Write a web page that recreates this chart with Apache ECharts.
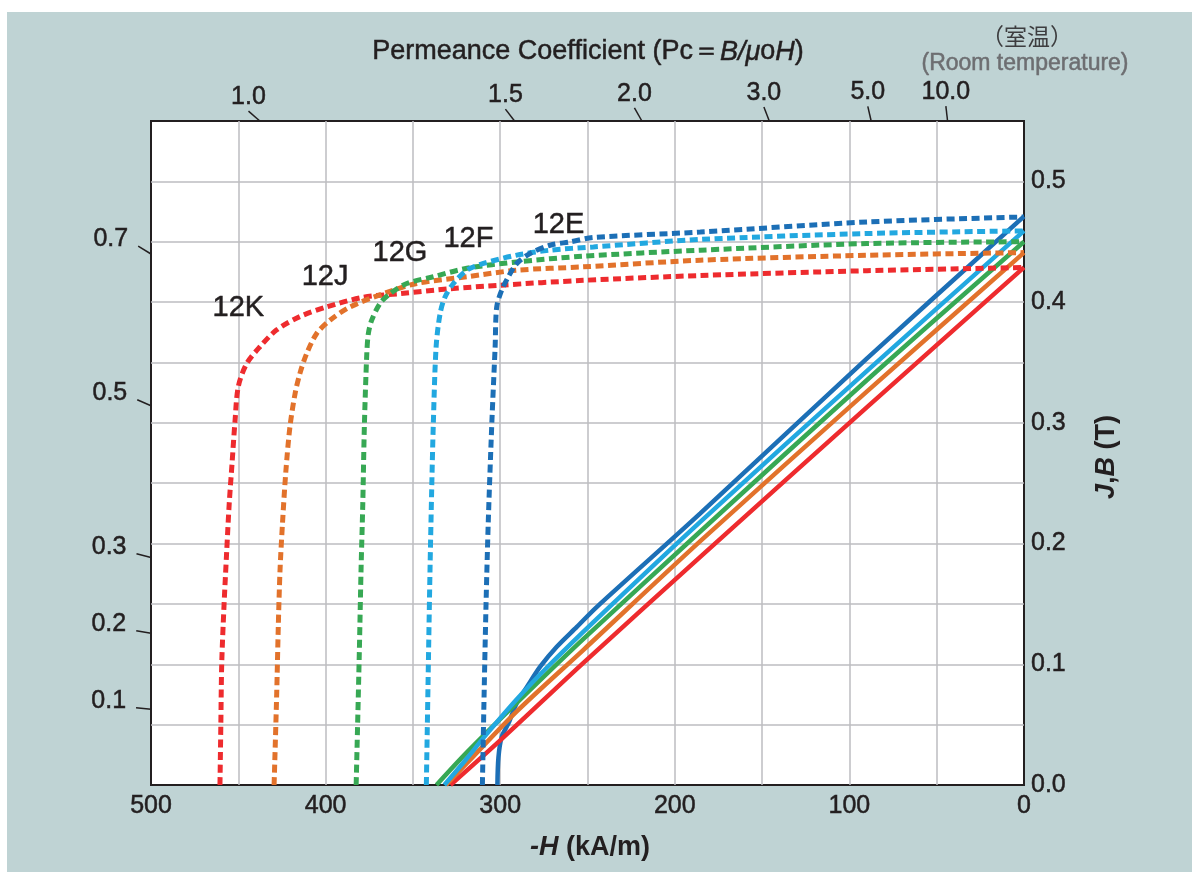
<!DOCTYPE html>
<html>
<head>
<meta charset="utf-8">
<title>Demagnetization curves</title>
<script src="https://cdn.jsdelivr.net/npm/echarts@6/dist/echarts.min.js"></script>
<style>
  html, body { margin: 0; padding: 0; background: #fff; }
  #main { width: 1192px; height: 872px; }
</style>
</head>
<body>
<div id="main"></div>
<script>
// -H (kA/m), J/B (T)
const grades = ['12K', '12J', '12G', '12F', '12E'];

// intrinsic curves J (dashed)
const jK = [[460.5, 0], [460, 0.05], [459.5, 0.10], [458.2, 0.148], [456.7, 0.192], [455.2, 0.233], [453.6, 0.266], [451.9, 0.301],
  [450.0, 0.330], [445.2, 0.349], [437.6, 0.363], [428.0, 0.377], [414.7, 0.388], [399.4, 0.396], [378.4, 0.404], [357.4, 0.407],
  [328.7, 0.411], [300.0, 0.414], [252.5, 0.418], [185.4, 0.422], [89.9, 0.426], [0, 0.4287]];
const jJ = [[429.5, 0], [428.0, 0.076], [427.1, 0.131], [426.1, 0.178], [424.6, 0.219], [422.7, 0.261], [420.4, 0.297],
  [417.5, 0.324], [414.7, 0.341], [410.8, 0.3575], [405.1, 0.374], [397.5, 0.385], [386.0, 0.396], [366.9, 0.407], [347.8, 0.4154],
  [319.1, 0.421], [290.5, 0.4264], [252.3, 0.4292], [185.4, 0.4347], [89.9, 0.4388], [0, 0.441]];
const jG = [[382.5, 0], [380.7, 0.109], [379.7, 0.178], [378.7, 0.233], [377.8, 0.297], [376.4, 0.3575], [375.5, 0.374],
  [373.6, 0.385], [368.8, 0.399], [363.1, 0.407], [353.5, 0.4154], [338.3, 0.421], [319.1, 0.428], [290.5, 0.4333],
  [252.3, 0.438], [185.4, 0.443], [89.9, 0.4485], [0, 0.450]];
const jF = [[342.3, 0], [341.2, 0.095], [340.2, 0.178], [339.2, 0.247], [338.3, 0.2995], [336.7, 0.363], [334.4, 0.3906],
  [331.6, 0.4043], [326.8, 0.4154], [319.1, 0.4264], [309.6, 0.432], [290.5, 0.4389], [271.4, 0.443], [246.6, 0.4457],
  [185.4, 0.4519], [89.9, 0.4568], [0, 0.459]];
const jE = [[310.2, 0], [309.2, 0.076], [308.1, 0.1505], [306.8, 0.2194], [304.8, 0.2995], [302.9, 0.363], [302.0, 0.396],
  [299.1, 0.410], [295.3, 0.421], [290.5, 0.432], [282.9, 0.4403], [271.4, 0.4471], [260.0, 0.4499], [246.6, 0.4535],
  [185.4, 0.458], [89.9, 0.4664], [0, 0.4705]];

// normal curves B (solid)
const bK = [[328.5, 0], [300, 0.037], [252.5, 0.101], [185.4, 0.189], [89.9, 0.313], [0, 0.4287]];
const bJ = [[331, 0], [319.1, 0.018], [290.5, 0.061], [252.3, 0.112], [185.4, 0.202], [89.9, 0.326], [0, 0.441]];
const bG = [[336.5, 0], [319.1, 0.027], [290.5, 0.068], [252.3, 0.121], [185.4, 0.210], [89.9, 0.3355], [0, 0.450]];
const bF = [[332, 0], [319.1, 0.022], [309.6, 0.039], [290.5, 0.071], [271.4, 0.100], [246.6, 0.135], [185.4, 0.218],
  [89.9, 0.343], [0, 0.459]];
const bE = [[301.6, 0], [301.0, 0.023], [299.1, 0.040], [295.3, 0.051], [290.5, 0.068], [284.8, 0.081], [277.1, 0.098],
  [267.6, 0.1145], [256.1, 0.131], [244.6, 0.1476], [185.4, 0.225], [89.9, 0.3534], [0, 0.471]];

// where the grade names sit
const labelAt = [[450, 0.395], [400.3, 0.421], [357.4, 0.441], [318.2, 0.452], [266.6, 0.4637]];

// permeance coefficient scale
const pcTop = [1.0, 1.5, 2.0, 3.0, 5.0, 10.0];
const pcLeft = [0.7, 0.5, 0.3, 0.2, 0.1];

const H_MAX = 500;
const B_MAX = 0.55;
const MU0 = 4 * Math.PI * 1e-4; // T per kA/m

const INK = '#231f20';
const FONT = '"Liberation Sans", Arial, sans-serif';
const colors = ['#ee2b2e', '#e2722b', '#37a854', '#22a8e0', '#1c6fb6'];
// a hairline outline gives the slightly heavier print look
const heavy = { textBorderColor: INK, textBorderWidth: 0.5 };

function pcTick(side) {
  return function (params, api) {
    const pc = api.value(0);
    const edge = side === 'top' ? [B_MAX / (pc * MU0), B_MAX] : [H_MAX, pc * MU0 * H_MAX];
    const p = api.coord(edge);
    const o = api.coord([0, 0]);
    const dx = p[0] - o[0];
    const dy = p[1] - o[1];
    const len = Math.sqrt(dx * dx + dy * dy);
    const q = [p[0] + dx / len * 15, p[1] + dy / len * 15];
    const t = side === 'top'
      ? { x: q[0], y: q[1] - 14, align: 'center' }
      : { x: q[0] - 10, y: q[1] - 7, align: 'right' };
    return {
      type: 'group',
      children: [
        { type: 'line', shape: { x1: p[0], y1: p[1], x2: q[0], y2: q[1] }, style: { stroke: INK, lineWidth: 1.5 } },
        {
          type: 'text', x: t.x, y: t.y,
          style: {
            text: pc.toFixed(1), fill: INK, fontSize: 25, fontFamily: FONT, align: t.align, verticalAlign: 'middle',
            stroke: INK, lineWidth: 0.5
          }
        }
      ]
    };
  };
}

const solid = [bE, bK, bJ, bG, bF];
const solidColor = [colors[4], colors[0], colors[1], colors[2], colors[3]];
const dashed = [jK, jJ, jG, jF, jE];

const series = [];
solid.forEach((d, i) => {
  series.push({
    type: 'line', data: d, showSymbol: false, smooth: 0.3, silent: true,
    lineStyle: { color: solidColor[i], width: 4.5 }, z: 2
  });
});
dashed.forEach((d, i) => {
  series.push({
    type: 'line', data: d, showSymbol: false, smooth: 0.3, silent: true,
    lineStyle: { color: colors[i], width: 5, type: [8, 4.5] }, z: 3
  });
});
series.push({
  type: 'scatter', symbolSize: 0, silent: true, z: 4,
  itemStyle: { opacity: 1 },
  data: labelAt.map((p, i) => ({ value: p, name: grades[i] })),
  label: Object.assign({ show: true, position: 'inside', formatter: '{b}', color: INK, fontSize: 29, fontFamily: FONT }, heavy)
});
series.push({ type: 'custom', renderItem: pcTick('top'), data: pcTop.map(v => [v, 0]), clip: false, silent: true, z: 5 });
series.push({ type: 'custom', renderItem: pcTick('left'), data: pcLeft.map(v => [v, 0]), clip: false, silent: true, z: 5 });

const boldRich = {
  b: { fontSize: 27, fontWeight: 'bold', fontFamily: FONT, fill: INK },
  bi: { fontSize: 27, fontWeight: 'bold', fontStyle: 'italic', fontFamily: FONT, fill: INK }
};

const option = {
  animation: false,
  backgroundColor: '#ffffff',
  textStyle: { fontFamily: FONT },
  grid: {
    left: 151, right: 168, top: 121, bottom: 87,
    show: true, backgroundColor: '#ffffff', borderColor: INK, borderWidth: 2
  },
  xAxis: {
    type: 'value', min: 0, max: H_MAX, interval: 50, inverse: true,
    axisLine: { show: false },
    axisTick: { show: false },
    splitLine: { showMinLine: false, showMaxLine: false, lineStyle: { color: '#bcbcc0', width: 1.5 } },
    axisLabel: Object.assign({
      color: INK, fontSize: 25, margin: 9,
      formatter: v => (v % 100 === 0 ? String(v) : '')
    }, heavy)
  },
  yAxis: {
    type: 'value', position: 'right', min: 0, max: B_MAX, interval: 0.05,
    axisLine: { show: false },
    axisTick: { show: false },
    splitLine: { showMinLine: false, showMaxLine: false, lineStyle: { color: '#bcbcc0', width: 1.5 } },
    axisLabel: Object.assign({
      color: INK, fontSize: 25, margin: 7,
      formatter: v => (Math.round(v * 100) % 10 === 0 ? v.toFixed(1) : '')
    }, heavy)
  },
  graphic: [
    { type: 'rect', z: -10, shape: { x: 7, y: 12, width: 1185, height: 860 }, style: { fill: '#bfd3d4' } },
    {
      type: 'text', x: 588, y: 52, z: 10,
      style: {
        text: '{n|Permeance Coefficient (Pc＝}{i|B/μ}{n|o}{i|H}{n|)}',
        align: 'center', verticalAlign: 'middle',
        rich: {
          n: { fontSize: 27, fontFamily: FONT, fill: INK, stroke: INK, lineWidth: 0.5 },
          i: { fontSize: 27, fontFamily: FONT, fontStyle: 'italic', fill: INK, stroke: INK, lineWidth: 0.5 }
        }
      }
    },
    {
      type: 'text', x: 1027, y: 36, z: 10,
      style: { text: '（室温）', fontSize: 23, fontFamily: '"Noto Sans CJK JP", sans-serif', fill: '#3d3d3f', align: 'center', verticalAlign: 'middle' }
    },
    {
      type: 'text', x: 1025, y: 64, z: 10,
      style: {
        text: '(Room temperature)', fontSize: 23, fontFamily: FONT, fill: '#6d6e71', align: 'center', verticalAlign: 'middle',
        stroke: '#6d6e71', lineWidth: 0.5
      }
    },
    {
      type: 'text', x: 590, y: 848, z: 10,
      style: { text: '{bi|-H}{b| (kA/m)}', align: 'center', verticalAlign: 'middle', rich: boldRich }
    },
    {
      type: 'text', x: 1107, y: 457, z: 10, rotation: Math.PI / 2,
      style: { text: '{bi|J}{b|,}{bi|B}{b| (T)}', align: 'center', verticalAlign: 'middle', rich: boldRich }
    }
  ],
  series: series
};

const chart = echarts.init(document.getElementById('main'));
chart.setOption(option);
window.addEventListener('resize', () => chart.resize());
</script>
</body>
</html>
